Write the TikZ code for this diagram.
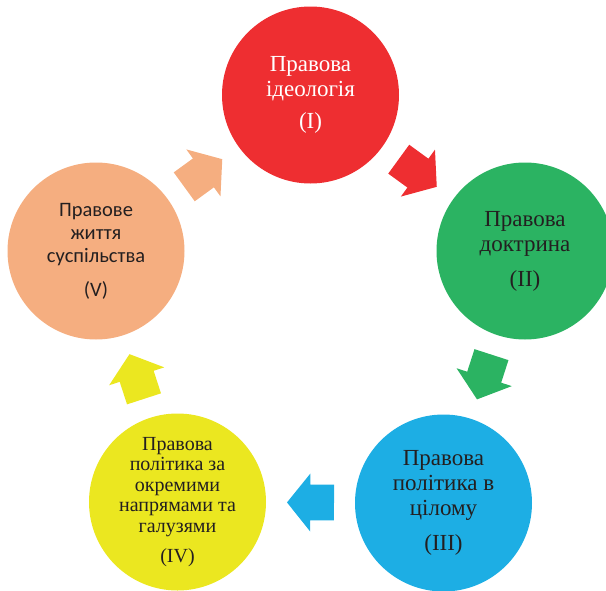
\documentclass[tikz,border=0pt]{standalone}
\usepackage{fontspec}
\setmainfont{Liberation Serif}
\newfontfamily\carlito{Carlito}
\usetikzlibrary{calc}
\definecolor{cI}{RGB}{238,46,49}
\definecolor{cII}{RGB}{43,179,98}
\definecolor{cIII}{RGB}{29,174,228}
\definecolor{cIV}{RGB}{235,231,32}
\definecolor{cV}{RGB}{245,174,128}
\definecolor{txt}{RGB}{35,31,32}
\begin{document}
\begin{tikzpicture}[x=1pt,y=1pt,
  stage/.style={circle, minimum size=177pt, inner sep=0pt, align=center, text=txt},
  bigtext/.style={font=\fontsize{23}{25}\selectfont},
  smalltext/.style={font=\fontsize{20}{20.5}\selectfont},
  sanstext/.style={font=\carlito\fontsize{20.5}{23.3}\selectfont},
  along/.style={pos=0.5, sloped, allow upside down},
  pics/blockarrow/.style={code={
    \fill[#1] (-23.5,-17.85) -- (0.2,-17.85) -- (0.2,-29) -- (23.5,0)
      -- (0.2,29) -- (0.2,17.85) -- (-23.5,17.85) -- cycle;}}]
\useasboundingbox (0,0) rectangle (606,-590);
\clip (0,0) rectangle (606,-590);
\node[stage, fill=cI, text=white, bigtext] (I) at (310.5,-95) {Правова\\ідеологія\\[7pt](I)};
\node[stage, fill=cII, bigtext] (II) at (525,-251) {Правова\\доктрина\\[10pt](II)};
\node[stage, fill=cIII, bigtext] (III) at (443.5,-503) {Правова\\політика в\\цілому\\[10pt](III)};
\node[stage, fill=cIV, smalltext] (IV) at (177.5,-502) {Правова\\політика за\\окремими\\напрямами та\\галузями\\[10pt](IV)};
\node[stage, fill=cV, sanstext] (V) at (96,-251) {Правове\\життя\\суспільства\\[10pt](V)};
\path (I.center) -- (II.center) pic[along] {blockarrow=cI};
\path (II.center) -- (III.center) pic[along] {blockarrow=cII};
\path (III.center) -- (IV.center) pic[along] {blockarrow=cIII};
\path (IV.center) -- (V.center) pic[along] {blockarrow=cIV};
\path (V.center) -- (I.center) pic[along] {blockarrow=cV};
\end{tikzpicture}
\end{document}
